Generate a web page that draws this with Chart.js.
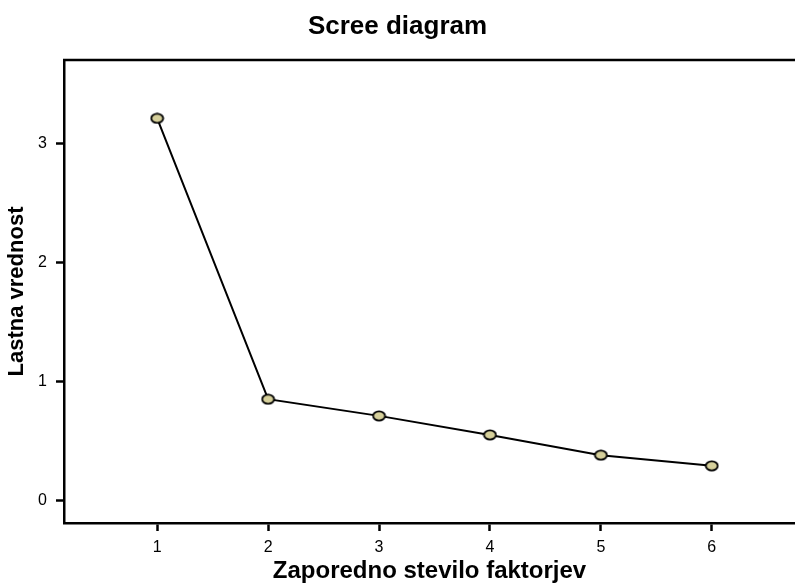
<!DOCTYPE html>
<html>
<head>
<meta charset="utf-8">
<script src="https://cdn.jsdelivr.net/npm/chart.js@4.4.0/dist/chart.umd.min.js"></script>
<style>
  html, body { margin: 0; padding: 0; background: #fff; }
  #wrap { width: 795px; height: 583px; }
</style>
</head>
<body>
<div id="wrap"><canvas id="scree"></canvas></div>
<script>
// factor numbers and eigenvalues
const factors = [1, 2, 3, 4, 5, 6];
const eigenvalues = [3.21, 0.85, 0.71, 0.55, 0.38, 0.29];
const yTicks = [0, 1, 2, 3];

// oval marker like the original
function makeMarker() {
  let c = document.createElement('canvas');
  c.width = 15; c.height = 12;
  let ctx = c.getContext('2d');
  ctx.beginPath();
  ctx.ellipse(7.5, 6, 6, 4.6, 0, 0, Math.PI * 2);
  ctx.fillStyle = '#d6d09b';
  ctx.fill();
  ctx.lineWidth = 1.8;
  ctx.strokeStyle = '#000';
  ctx.stroke();
  return c;
}

const topLine = {
  id: 'topLine',
  afterDraw(chart) {
    let a = chart.chartArea;
    let ctx = chart.ctx;
    ctx.save();
    ctx.strokeStyle = '#000';
    ctx.lineWidth = 2.5;
    ctx.beginPath();
    ctx.moveTo(a.left - 1, a.top);
    ctx.lineTo(chart.width, a.top);
    ctx.stroke();
    ctx.restore();
  }
};

const fam = 'Liberation Sans, Arial, sans-serif';

new Chart(document.getElementById('scree'), {
  type: 'line',
  data: {
    datasets: [{
      data: factors.map((f, i) => ({x: f, y: eigenvalues[i]})),
      borderColor: '#000',
      borderWidth: 2,
      pointStyle: makeMarker(),
      pointRadius: 6,
      pointHoverRadius: 6,
      tension: 0
    }]
  },
  options: {
    responsive: true,
    maintainAspectRatio: false,
    animation: false,
    layout: { autoPadding: false, padding: 0 },
    plugins: {
      legend: { display: false },
      tooltip: { enabled: false },
      title: {
        display: true,
        text: 'Scree diagram',
        color: '#000',
        font: { family: fam, size: 26, weight: 'bold' },
        padding: { top: 11, bottom: 17.8 }
      }
    },
    scales: {
      x: {
        type: 'linear',
        min: 0.16,
        max: 6.75,
        afterBuildTicks: s => { s.ticks = factors.map(v => ({value: v})); },
        afterFit: s => { s.height = 60; },
        ticks: {
          color: '#000',
          font: { family: fam, size: 16 },
          padding: 7
        },
        grid: { display: true, drawOnChartArea: false, drawTicks: true, tickLength: 8, tickWidth: 2.5, tickColor: '#000' },
        border: { display: true, color: '#000', width: 2.5 },
        title: {
          display: true,
          text: 'Zaporedno stevilo faktorjev',
          color: '#000',
          font: { family: fam, size: 24, weight: 'bold', lineHeight: 1 },
          padding: { top: 0, bottom: 0 }
        }
      },
      y: {
        type: 'linear',
        min: -0.19,
        max: 3.70,
        afterBuildTicks: s => { s.ticks = yTicks.map(v => ({value: v})); },
        afterFit: s => { s.width = 64; },
        ticks: {
          color: '#000',
          font: { family: fam, size: 16 },
          padding: 9
        },
        grid: { display: true, drawOnChartArea: false, drawTicks: true, tickLength: 8, tickWidth: 2.5, tickColor: '#000' },
        border: { display: true, color: '#000', width: 2.5 },
        title: {
          display: true,
          text: 'Lastna vrednost',
          color: '#000',
          font: { family: fam, size: 22, weight: 'bold' },
          padding: { top: 4, bottom: 0 }
        }
      }
    }
  },
  plugins: [topLine]
});
</script>
</body>
</html>
